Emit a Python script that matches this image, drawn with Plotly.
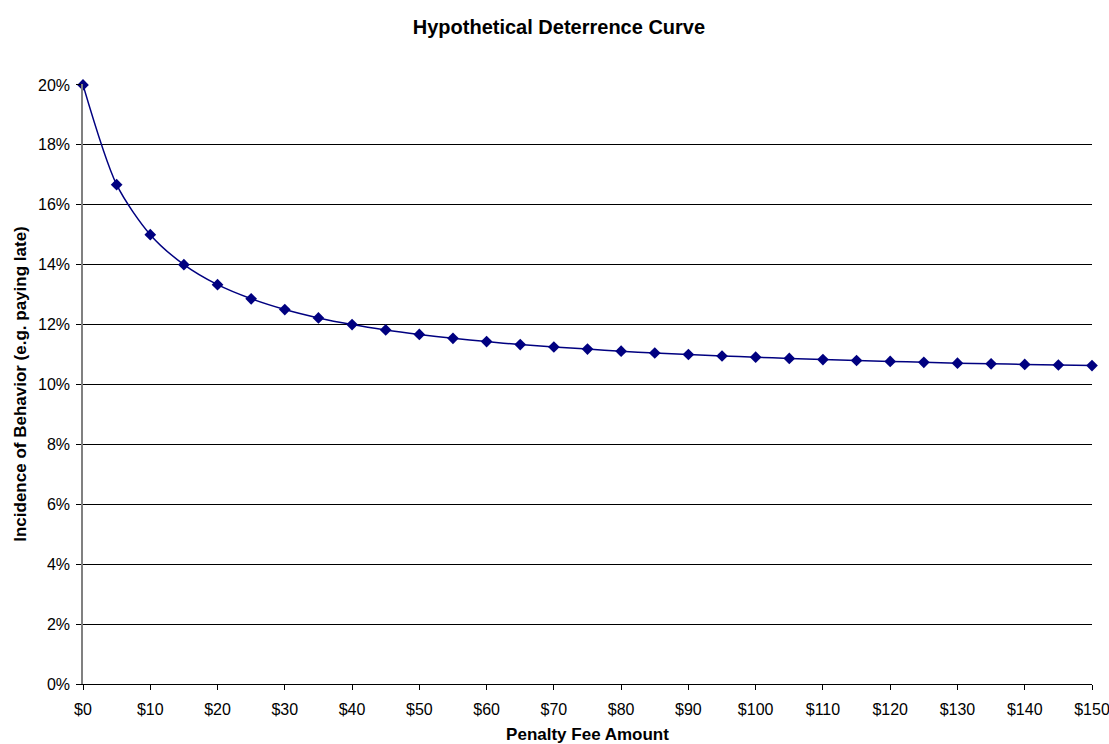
import plotly.graph_objects as go

fee = [0, 5, 10, 15, 20, 25, 30, 35, 40, 45, 50, 55, 60, 65, 70, 75, 80, 85, 90, 95,
       100, 105, 110, 115, 120, 125, 130, 135, 140, 145, 150]
incidence = [0.200, 0.1667, 0.150, 0.140, 0.1333, 0.1286, 0.125, 0.1222, 0.120, 0.1182,
             0.1167, 0.1154, 0.1143, 0.1133, 0.1125, 0.1118, 0.1111, 0.1105, 0.110, 0.1095,
             0.1091, 0.1087, 0.1083, 0.108, 0.1077, 0.1074, 0.1071, 0.1069, 0.1067, 0.1065,
             0.1063]
x_ticks = list(range(0, 151, 10))
x_labels = ["$" + str(v) for v in x_ticks]
y_ticks = [i / 100 for i in range(0, 21, 2)]
y_labels = [str(i) + "%" for i in range(0, 21, 2)]

fig = go.Figure()
fig.add_trace(go.Scatter(
    x=fee, y=incidence, mode="lines+markers",
    line=dict(color="#000080", width=1.5, shape="spline", smoothing=0.8),
    marker=dict(symbol="diamond", size=9, color="#000080"),
    showlegend=False, cliponaxis=False,
))

font = "Arial, Liberation Sans, sans-serif"
fig.update_layout(
    width=1109, height=744,
    margin=dict(l=83, r=17, t=84, b=60),
    paper_bgcolor="white", plot_bgcolor="white",
    font=dict(family=font, size=16, color="black"),
    title=dict(text="<b>Hypothetical Deterrence Curve</b>", x=0.504, xanchor="center",
               y=0.964, yanchor="middle", font=dict(size=20, family=font, color="black")),
    xaxis=dict(range=[0, 150], tickvals=x_ticks, ticktext=x_labels, showgrid=False,
               ticks="outside", ticklen=5, tickcolor="black", showline=True,
               linecolor="black", linewidth=1, zeroline=False, automargin=False,
               ticklabeloverflow="allow", ticklabelstandoff=6,
               title=dict(text="<b>Penalty Fee Amount</b>", font=dict(size=17), standoff=17),
               tickfont=dict(size=16)),
    yaxis=dict(range=[0, 0.2003], tickvals=y_ticks, ticktext=y_labels, showgrid=True,
               gridcolor="black", gridwidth=1, ticks="outside", ticklen=5, tickcolor="black",
               showline=True, linecolor="#808080", linewidth=1.5, zeroline=False,
               automargin=False, ticklabelstandoff=3, ticklabeloverflow="allow",
               title=dict(text="<b>Incidence of Behavior (e.g. paying late)</b>",
                          font=dict(size=17), standoff=7),
               tickfont=dict(size=16)),
)
fig.write_html("out.html")
